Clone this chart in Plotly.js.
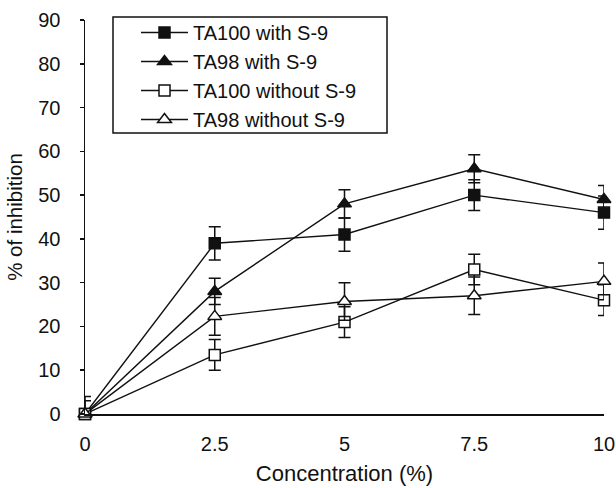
<!DOCTYPE html>
<html><head><meta charset="utf-8">
<script src="https://cdn.plot.ly/plotly-3.0.1.min.js"></script>
<style>html,body{margin:0;padding:0;background:#fff}</style>
</head><body><div id="chart" style="width:616px;height:488px"></div>
<script>
const conc = [0, 2.5, 5, 7.5, 10];
const concLabels = ['0', '2.5', '5', '7.5', '10'];
const ta100With = [0, 39, 41, 50, 46];
const ta100WithErr = [4, 3.8, 3.8, 3.5, 3.8];
const ta98With = [0, 28, 48, 56, 49];
const ta98WithErr = [3, 3, 3.2, 3.2, 3.2];
const ta100Without = [0, 13.5, 21, 33, 26];
const ta100WithoutErr = [0, 3.5, 3.5, 3.5, 3.5];
const ta98Without = [0, 22.3, 25.7, 27, 30.3];
const ta98WithoutErr = [0, 4.3, 4.3, 4.3, 4.2];
const names = ['TA100 with S-9', 'TA98 with S-9', 'TA100 without S-9', 'TA98 without S-9'];

const ink = '#111';
const fam = '"Liberation Sans", Arial, sans-serif';
function tr(y, e, name, sym, fill, size, g) {
  return {
    x: conc, y: y, name: name, type: 'scatter', mode: 'lines+markers',
    legendgroup: g, cliponaxis: false,
    line: {color: ink, width: 1.4},
    marker: {symbol: sym, size: size, color: fill, line: {color: ink, width: 1.5}},
    error_y: {type: 'data', array: e, visible: true, color: ink, thickness: 1.5, width: 6}
  };
}
const data = [
  tr(ta100With, ta100WithErr, names[0], 'square', ink, 11, 'a'),
  tr(ta98With, ta98WithErr, names[1], 'triangle-up', ink, 12, 'b'),
  tr(ta100Without, ta100WithoutErr, names[2], 'square', '#fff', 11, 'c'),
  tr(ta98Without, ta98WithoutErr, names[3], 'triangle-up', '#fff', 12, 'd')
];
const L = 85, R = 12, T = 20, B = 74;
const pw = 616 - L - R, ph = 488 - T - B;
const px = v => (v - L) / pw;
const py = v => (488 - B - v) / ph;
const layout = {
  width: 616, height: 488,
  margin: {l: L, r: R, t: T, b: B},
  paper_bgcolor: '#fff', plot_bgcolor: '#fff',
  font: {family: fam, size: 20, color: ink},
  showlegend: true,
  legend: {x: px(136), y: py(13), xanchor: 'left', yanchor: 'top',
    borderwidth: 0, bgcolor: 'rgba(0,0,0,0)',
    font: {family: fam, size: 20, color: ink},
    tracegroupgap: 0, itemwidth: 47, traceorder: 'normal'},
  shapes: [{type: 'rect', xref: 'paper', yref: 'paper',
    x0: px(113), x1: px(387), y0: py(133), y1: py(17),
    line: {color: ink, width: 1.5}, fillcolor: 'rgba(0,0,0,0)', layer: 'above'}],
  xaxis: {
    range: [0, 10], tickvals: conc, ticktext: concLabels,
    showgrid: false, zeroline: false, showline: true, linecolor: ink, linewidth: 1.5,
    ticks: '', ticklabelstandoff: 11,
    title: {text: 'Concentration (%)', font: {family: fam, size: 22, color: ink}, standoff: 12}
  },
  yaxis: {
    range: [0, 90], dtick: 10, tick0: 0,
    showgrid: false, zeroline: false, showline: true, linecolor: ink, linewidth: 1.5,
    ticks: 'outside', ticklen: 4, tickwidth: 1.5, tickcolor: ink, ticklabelstandoff: 15,
    title: {text: '% of inhibition', font: {family: fam, size: 20.5, color: ink}, standoff: 10}
  }
};
Plotly.newPlot('chart', data, layout, {displayModeBar: false, staticPlot: true});
</script></body></html>
